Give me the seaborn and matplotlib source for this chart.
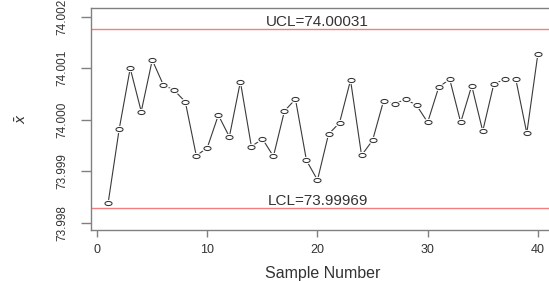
import matplotlib
matplotlib.use("Agg")
import matplotlib.pyplot as plt
import numpy as np
import pandas as pd
import seaborn as sns
from matplotlib.path import Path

# 样本均值
sample_number = list(range(1, 41))
xbar = [
	73.99839, 73.99982, 74.00100, 74.00016, 74.00116, 74.00068, 74.00057, 74.00035,
	73.99930, 73.99946, 74.00009, 73.99967, 74.00074, 73.99948, 73.99963, 73.99929,
	74.00017, 74.00040, 73.99921, 73.99883, 73.99972, 73.99994, 74.00077, 73.99931,
	73.99960, 74.00037, 74.00031, 74.00040, 74.00028, 73.99995, 74.00063, 74.00079,
	73.99995, 74.00066, 73.99978, 74.00069, 74.00079, 74.00079, 73.99974, 74.00127,
]
ucl_pos = 74.00176
lcl_pos = 73.99828
ucl_label = "UCL=74.00031"
lcl_label = "LCL=73.99969"
y_ticks = [73.998, 73.999, 74.000, 74.001, 74.002]
x_ticks = [0, 10, 20, 30, 40]

df = pd.DataFrame({"Sample": sample_number, "xbar": xbar})

sns.set_theme(style="white")
plt.rcParams["font.family"] = ["Liberation Sans", "DejaVu Sans"]

fig = plt.figure(figsize=(5.49, 2.82), dpi=100)
ax = fig.add_axes([91 / 549, 1 - 230 / 282, (555 - 91) / 549, 222 / 282])

# 椭圆形点标记（参考图水平拉伸）
t = np.linspace(0, 2 * np.pi, 40)
ellipse = Path(np.column_stack([np.cos(t), 0.58 * np.sin(t)]), closed=True)

sns.lineplot(data=df, x="Sample", y="xbar", color="#3a3a3a", linewidth=0.8, ax=ax)
sns.scatterplot(data=df, x="Sample", y="xbar", marker=ellipse, s=80,
				color="white", linewidth=0, ax=ax, zorder=3)
sns.scatterplot(data=df, x="Sample", y="xbar", marker=ellipse, s=26,
				facecolor="white", edgecolor="#333333", linewidth=0.75, ax=ax, zorder=4)

ax.axhline(ucl_pos, color="#f08080", linewidth=1, zorder=1)
ax.axhline(lcl_pos, color="#f08080", linewidth=1, zorder=1)
ax.text(20, ucl_pos, ucl_label, ha="center", va="bottom", fontsize=11, color="#333333")
ax.text(20, lcl_pos, lcl_label, ha="center", va="bottom", fontsize=11, color="#333333")

ax.set_xlim(-0.56, 41.56)
ax.set_ylim(73.99786, 74.00217)
ax.set_xticks(x_ticks)
ax.set_yticks(y_ticks)
ax.set_yticklabels([f"{v:.3f}" for v in y_ticks], rotation=90, va="center")

for side in ["left", "top", "bottom"]:
	ax.spines[side].set_color("#808080")
	ax.spines[side].set_linewidth(1)
ax.spines["right"].set_visible(False)

ax.tick_params(axis="x", bottom=True, length=5, width=1, color="#808080",
			   labelsize=9, labelcolor="#333333", pad=5)
ax.tick_params(axis="y", left=True, length=7, width=1, color="#808080",
			   labelsize=8.5, labelcolor="#333333", pad=9)

ax.set_xlabel("Sample Number", fontsize=11.5, color="#333333", labelpad=7)
ax.set_ylabel(r"$\bar{x}$", fontsize=10, color="#333333", labelpad=20)

fig.savefig("out.png", dpi=100)
plt.close(fig)
